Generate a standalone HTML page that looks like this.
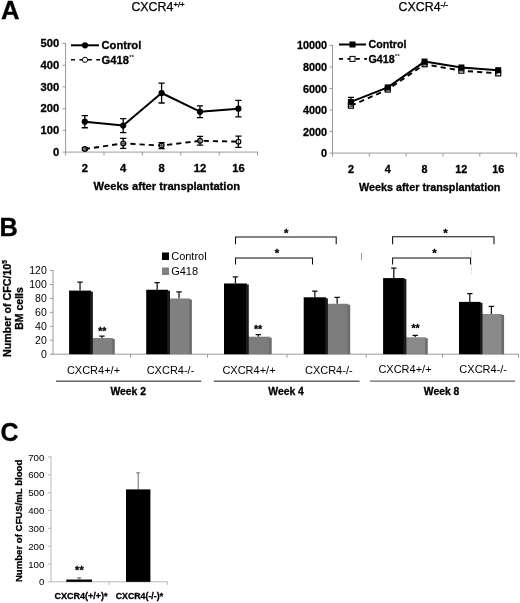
<!DOCTYPE html>
<html><head><meta charset="utf-8"><title>Figure</title>
<style>html,body{margin:0;padding:0;background:#fff;}svg{display:block;}text{font-family:"Liberation Sans", sans-serif;fill:#000;}text[font-weight=bold]{stroke:#000;stroke-width:0.3px;}</style>
</head><body>
<svg width="520" height="603" viewBox="0 0 520 603">
<defs><filter id="bl" x="0" y="0" width="520" height="603" filterUnits="userSpaceOnUse"><feGaussianBlur stdDeviation="0.4"/></filter></defs>
<rect x="0" y="0" width="520" height="603" fill="#fff"/>
<g filter="url(#bl)">
<rect x="0" y="0" width="520" height="603" fill="#fff"/>
<text x="1.0" y="19" font-size="25.6" font-weight="bold">A</text>
<text x="-0.6" y="235.6" font-size="25.4" font-weight="bold">B</text>
<text x="0.6" y="441" font-size="25" font-weight="bold">C</text>
<text x="131.4" y="11.4" font-size="12.4" stroke="#000" stroke-width="0.25">CXCR4<tspan font-size="7.8" dy="-4.2" stroke-width="0.35">+/+</tspan></text>
<text x="398.6" y="11.4" font-size="12.4" stroke="#000" stroke-width="0.25">CXCR4<tspan font-size="7.8" dy="-4.2" stroke-width="0.35">-/-</tspan></text>
<g stroke="#9a9a9a" stroke-width="1" fill="none">
<line x1="65.60" y1="43.00" x2="65.60" y2="152.10"/>
<line x1="65.10" y1="152.10" x2="258.10" y2="152.10"/>
<line x1="62.60" y1="152.10" x2="65.60" y2="152.10"/>
<line x1="65.60" y1="152.10" x2="65.60" y2="155.60"/>
<line x1="62.60" y1="130.38" x2="65.60" y2="130.38"/>
<line x1="104.00" y1="152.10" x2="104.00" y2="155.60"/>
<line x1="62.60" y1="108.66" x2="65.60" y2="108.66"/>
<line x1="142.40" y1="152.10" x2="142.40" y2="155.60"/>
<line x1="62.60" y1="86.94" x2="65.60" y2="86.94"/>
<line x1="180.80" y1="152.10" x2="180.80" y2="155.60"/>
<line x1="62.60" y1="65.22" x2="65.60" y2="65.22"/>
<line x1="219.20" y1="152.10" x2="219.20" y2="155.60"/>
<line x1="62.60" y1="43.50" x2="65.60" y2="43.50"/>
<line x1="257.60" y1="152.10" x2="257.60" y2="155.60"/>
</g>
<text x="59.20" y="155.83" font-size="11.2" font-weight="bold" text-anchor="end">0</text>
<text x="59.20" y="134.11" font-size="11.2" font-weight="bold" text-anchor="end">100</text>
<text x="59.20" y="112.39" font-size="11.2" font-weight="bold" text-anchor="end">200</text>
<text x="59.20" y="90.67" font-size="11.2" font-weight="bold" text-anchor="end">300</text>
<text x="59.20" y="68.95" font-size="11.2" font-weight="bold" text-anchor="end">400</text>
<text x="59.20" y="47.23" font-size="11.2" font-weight="bold" text-anchor="end">500</text>
<text x="84.80" y="172.00" font-size="11.2" font-weight="bold" text-anchor="middle">2</text>
<text x="123.20" y="172.00" font-size="11.2" font-weight="bold" text-anchor="middle">4</text>
<text x="161.60" y="172.00" font-size="11.2" font-weight="bold" text-anchor="middle">8</text>
<text x="200.00" y="172.00" font-size="11.2" font-weight="bold" text-anchor="middle">12</text>
<text x="238.40" y="172.00" font-size="11.2" font-weight="bold" text-anchor="middle">16</text>
<text x="93.60" y="190.00" font-size="11.2" font-weight="bold">Weeks after transplantation</text>
<g stroke="#000" stroke-width="1.3" fill="none">
<path d="M84.80 115.61V127.77M81.70 115.61H87.90M81.70 127.77H87.90"/>
<path d="M123.20 118.65V132.55M120.10 118.65H126.30M120.10 132.55H126.30"/>
<path d="M161.60 83.03V103.01M158.50 83.03H164.70M158.50 103.01H164.70"/>
<path d="M200.00 105.84V117.57M196.90 105.84H203.10M196.90 117.57H203.10"/>
<path d="M238.40 100.41V116.91M235.30 100.41H241.50M235.30 116.91H241.50"/>
<path d="M84.80 147.97V150.15M81.70 147.97H87.90M81.70 150.15H87.90"/>
<path d="M123.20 138.42V148.41M120.10 138.42H126.30M120.10 148.41H126.30"/>
<path d="M161.60 142.54V148.62M158.50 142.54H164.70M158.50 148.62H164.70"/>
<path d="M200.00 136.46V145.15M196.90 136.46H203.10M196.90 145.15H203.10"/>
<path d="M238.40 136.03V147.32M235.30 136.03H241.50M235.30 147.32H241.50"/>
</g>
<polyline points="84.80,149.06 123.20,143.41 161.60,145.58 200.00,140.81 238.40,141.67" fill="none" stroke="#000" stroke-width="1.9" stroke-dasharray="5.2 4"/>
<polyline points="84.80,121.69 123.20,125.60 161.60,93.02 200.00,111.70 238.40,108.66" fill="none" stroke="#000" stroke-width="2" stroke-linejoin="round"/>
<circle cx="84.80" cy="149.06" r="2.4" fill="#fff" fill-opacity="0.35" stroke="#000" stroke-width="1.2"/>
<circle cx="123.20" cy="143.41" r="2.4" fill="#fff" fill-opacity="0.35" stroke="#000" stroke-width="1.2"/>
<circle cx="161.60" cy="145.58" r="2.4" fill="#fff" fill-opacity="0.35" stroke="#000" stroke-width="1.2"/>
<circle cx="200.00" cy="140.81" r="2.4" fill="#fff" fill-opacity="0.35" stroke="#000" stroke-width="1.2"/>
<circle cx="238.40" cy="141.67" r="2.4" fill="#fff" fill-opacity="0.35" stroke="#000" stroke-width="1.2"/>
<circle cx="84.80" cy="121.69" r="3.1" fill="#000"/>
<circle cx="123.20" cy="125.60" r="3.1" fill="#000"/>
<circle cx="161.60" cy="93.02" r="3.1" fill="#000"/>
<circle cx="200.00" cy="111.70" r="3.1" fill="#000"/>
<circle cx="238.40" cy="108.66" r="3.1" fill="#000"/>
<line x1="71.00" y1="45.30" x2="99.00" y2="45.30" stroke="#000" stroke-width="2"/>
<line x1="71.00" y1="59.80" x2="100.00" y2="59.80" stroke="#000" stroke-width="1.6" stroke-dasharray="4 4.4"/>
<circle cx="85.00" cy="45.30" r="3.1" fill="#000"/>
<circle cx="85.00" cy="59.80" r="2.6" fill="#fff" stroke="#000" stroke-width="1"/>
<text x="101.50" y="49.33" font-size="11.2" font-weight="bold">Control</text>
<text x="101.50" y="63.83" font-size="11.2" font-weight="bold">G418<tspan font-size="5.6" dy="-4.4" dx="0.3" style="stroke-width:0;letter-spacing:0.4px">**</tspan></text>
<g stroke="#9a9a9a" stroke-width="1" fill="none">
<line x1="332.50" y1="44.90" x2="332.50" y2="153.10"/>
<line x1="332.00" y1="153.10" x2="517.10" y2="153.10"/>
<line x1="329.50" y1="153.10" x2="332.50" y2="153.10"/>
<line x1="332.50" y1="153.10" x2="332.50" y2="156.60"/>
<line x1="329.50" y1="131.56" x2="332.50" y2="131.56"/>
<line x1="369.32" y1="153.10" x2="369.32" y2="156.60"/>
<line x1="329.50" y1="110.02" x2="332.50" y2="110.02"/>
<line x1="406.14" y1="153.10" x2="406.14" y2="156.60"/>
<line x1="329.50" y1="88.48" x2="332.50" y2="88.48"/>
<line x1="442.96" y1="153.10" x2="442.96" y2="156.60"/>
<line x1="329.50" y1="66.94" x2="332.50" y2="66.94"/>
<line x1="479.78" y1="153.10" x2="479.78" y2="156.60"/>
<line x1="329.50" y1="45.40" x2="332.50" y2="45.40"/>
<line x1="516.60" y1="153.10" x2="516.60" y2="156.60"/>
</g>
<text x="327.10" y="157.19" font-size="10.8" font-weight="bold" text-anchor="end">0</text>
<text x="327.10" y="135.65" font-size="10.8" font-weight="bold" text-anchor="end">2000</text>
<text x="327.10" y="114.11" font-size="10.8" font-weight="bold" text-anchor="end">4000</text>
<text x="327.10" y="92.57" font-size="10.8" font-weight="bold" text-anchor="end">6000</text>
<text x="327.10" y="71.03" font-size="10.8" font-weight="bold" text-anchor="end">8000</text>
<text x="327.10" y="49.49" font-size="10.8" font-weight="bold" text-anchor="end">10000</text>
<text x="350.91" y="172.50" font-size="10.8" font-weight="bold" text-anchor="middle">2</text>
<text x="387.73" y="172.50" font-size="10.8" font-weight="bold" text-anchor="middle">4</text>
<text x="424.55" y="172.50" font-size="10.8" font-weight="bold" text-anchor="middle">8</text>
<text x="461.37" y="172.50" font-size="10.8" font-weight="bold" text-anchor="middle">12</text>
<text x="498.19" y="172.50" font-size="10.8" font-weight="bold" text-anchor="middle">16</text>
<text x="359.00" y="190.70" font-size="10.8" font-weight="bold">Weeks after transplantation</text>
<g stroke="#000" stroke-width="1.3" fill="none">
<path d="M350.91 97.42V106.47M347.81 97.42H354.01M347.81 106.47H354.01"/>
</g>
<polyline points="350.91,105.71 387.73,89.56 424.55,64.25 461.37,70.71 498.19,73.40" fill="none" stroke="#000" stroke-width="1.9" stroke-dasharray="5.2 4"/>
<polyline points="350.91,101.94 387.73,87.40 424.55,61.56 461.37,67.48 498.19,70.17" fill="none" stroke="#000" stroke-width="2" stroke-linejoin="round"/>
<rect x="348.41" y="103.21" width="5" height="5" fill="#fff" fill-opacity="0.35" stroke="#000" stroke-width="1.2"/>
<rect x="385.23" y="87.06" width="5" height="5" fill="#fff" fill-opacity="0.35" stroke="#000" stroke-width="1.2"/>
<rect x="422.05" y="61.75" width="5" height="5" fill="#fff" fill-opacity="0.35" stroke="#000" stroke-width="1.2"/>
<rect x="458.87" y="68.21" width="5" height="5" fill="#fff" fill-opacity="0.35" stroke="#000" stroke-width="1.2"/>
<rect x="495.69" y="70.90" width="5" height="5" fill="#fff" fill-opacity="0.35" stroke="#000" stroke-width="1.2"/>
<rect x="347.91" y="98.94" width="6" height="6" fill="#000"/>
<rect x="384.73" y="84.40" width="6" height="6" fill="#000"/>
<rect x="421.55" y="58.56" width="6" height="6" fill="#000"/>
<rect x="458.37" y="64.48" width="6" height="6" fill="#000"/>
<rect x="495.19" y="67.17" width="6" height="6" fill="#000"/>
<line x1="339.00" y1="44.50" x2="366.00" y2="44.50" stroke="#000" stroke-width="2"/>
<line x1="339.00" y1="58.90" x2="367.00" y2="58.90" stroke="#000" stroke-width="1.6" stroke-dasharray="4 4.4"/>
<rect x="349.50" y="41.50" width="6" height="6" fill="#000"/>
<rect x="350.00" y="56.40" width="5" height="5" fill="#fff" stroke="#000" stroke-width="1"/>
<text x="368.50" y="48.35" font-size="10.7" font-weight="bold">Control</text>
<text x="368.50" y="62.75" font-size="10.7" font-weight="bold">G418<tspan font-size="5.3" dy="-4.4" dx="0.3" style="stroke-width:0;letter-spacing:0.4px">**</tspan></text>
<g stroke="#9a9a9a" stroke-width="1" fill="none">
<line x1="53" y1="270" x2="53" y2="354.20"/>
<line x1="52.5" y1="354.20" x2="518.8" y2="354.20"/>
<line x1="50" y1="354.20" x2="53" y2="354.20"/>
<line x1="50" y1="340.25" x2="53" y2="340.25"/>
<line x1="50" y1="326.30" x2="53" y2="326.30"/>
<line x1="50" y1="312.35" x2="53" y2="312.35"/>
<line x1="50" y1="298.40" x2="53" y2="298.40"/>
<line x1="50" y1="284.45" x2="53" y2="284.45"/>
<line x1="50" y1="270.50" x2="53" y2="270.50"/>
<line x1="130.50" y1="354.20" x2="130.50" y2="357.70"/>
<line x1="207.50" y1="354.20" x2="207.50" y2="357.70"/>
<line x1="287.00" y1="354.20" x2="287.00" y2="357.70"/>
<line x1="366.25" y1="354.20" x2="366.25" y2="357.70"/>
<line x1="442.50" y1="354.20" x2="442.50" y2="357.70"/>
<line x1="518.50" y1="354.20" x2="518.50" y2="357.70"/>
</g>
<text x="46.8" y="358.00" font-size="10.5" text-anchor="end">0</text>
<text x="46.8" y="344.05" font-size="10.5" text-anchor="end">20</text>
<text x="46.8" y="330.10" font-size="10.5" text-anchor="end">40</text>
<text x="46.8" y="316.15" font-size="10.5" text-anchor="end">60</text>
<text x="46.8" y="302.20" font-size="10.5" text-anchor="end">80</text>
<text x="46.8" y="288.25" font-size="10.5" text-anchor="end">100</text>
<text x="46.8" y="274.30" font-size="10.5" text-anchor="end">120</text>
<text transform="translate(10.6 308.5) rotate(-90)" font-size="10.7" font-weight="bold" text-anchor="middle">Number of CFC/10<tspan font-size="6.5" dy="-4">5</tspan></text>
<text transform="translate(22.8 308.5) rotate(-90)" font-size="10.5" font-weight="bold" text-anchor="middle">BM cells</text>
<g stroke="#111" stroke-width="1.25" fill="none">
<path d="M80.05 290.59V282.22M77.35 282.22H82.75"/>
<path d="M101.95 338.02V336.00M99.25 336.00H104.65"/>
</g>
<rect x="69.10" y="290.59" width="21.90" height="63.61" fill="#000"/>
<rect x="91.00" y="338.02" width="21.90" height="16.18" fill="#808080"/>
<rect x="112.10" y="339.02" width="2.7" height="15.18" fill="#6c6c6c"/>
<rect x="90.20" y="291.59" width="2.7" height="62.61" fill="#1c1c1c"/>
<g stroke="#111" stroke-width="1.25" fill="none">
<path d="M157.15 289.75V282.50M154.45 282.50H159.85"/>
<path d="M179.05 298.47V291.91M176.35 291.91H181.75"/>
</g>
<rect x="146.20" y="289.75" width="21.90" height="64.45" fill="#000"/>
<rect x="168.10" y="298.47" width="21.90" height="55.73" fill="#808080"/>
<rect x="189.20" y="299.47" width="2.7" height="54.73" fill="#6c6c6c"/>
<rect x="167.30" y="290.75" width="2.7" height="63.45" fill="#1c1c1c"/>
<g stroke="#111" stroke-width="1.25" fill="none">
<path d="M235.45 283.47V276.92M232.75 276.92H238.15"/>
<path d="M258.35 336.69V334.60M255.65 334.60H261.05"/>
</g>
<rect x="224.00" y="283.47" width="22.90" height="70.73" fill="#000"/>
<rect x="246.90" y="336.69" width="22.90" height="17.51" fill="#7b7b7b"/>
<rect x="269.00" y="337.69" width="2.7" height="16.51" fill="#6c6c6c"/>
<rect x="246.10" y="284.47" width="2.7" height="69.73" fill="#1c1c1c"/>
<g stroke="#111" stroke-width="1.25" fill="none">
<path d="M314.85 297.28V291.22M312.15 291.22H317.55"/>
<path d="M337.15 303.77V297.28M334.45 297.28H339.85"/>
</g>
<rect x="303.70" y="297.28" width="22.30" height="56.92" fill="#000"/>
<rect x="326.00" y="303.77" width="22.30" height="50.43" fill="#7b7b7b"/>
<rect x="347.50" y="304.77" width="2.7" height="49.43" fill="#6c6c6c"/>
<rect x="325.20" y="298.28" width="2.7" height="55.92" fill="#1c1c1c"/>
<g stroke="#111" stroke-width="1.25" fill="none">
<path d="M393.80 278.10V268.13M391.10 268.13H396.50"/>
<path d="M415.20 337.25V335.37M412.50 335.37H417.90"/>
</g>
<rect x="383.10" y="278.10" width="21.40" height="76.10" fill="#000"/>
<rect x="404.50" y="337.25" width="21.40" height="16.95" fill="#898989"/>
<rect x="425.10" y="338.25" width="2.7" height="15.95" fill="#6c6c6c"/>
<rect x="403.70" y="279.10" width="2.7" height="75.10" fill="#1c1c1c"/>
<g stroke="#111" stroke-width="1.25" fill="none">
<path d="M469.80 301.89V293.73M467.10 293.73H472.50"/>
<path d="M491.40 314.02V306.49M488.70 306.49H494.10"/>
</g>
<rect x="459.00" y="301.89" width="21.60" height="52.31" fill="#000"/>
<rect x="480.60" y="314.02" width="21.60" height="40.18" fill="#898989"/>
<rect x="501.40" y="315.02" width="2.7" height="39.18" fill="#6c6c6c"/>
<rect x="479.80" y="302.89" width="2.7" height="51.31" fill="#1c1c1c"/>
<text x="102.30" y="334.80" font-size="10.5" font-weight="bold" text-anchor="middle">**</text>
<text x="258.10" y="333.20" font-size="10.5" font-weight="bold" text-anchor="middle">**</text>
<text x="415.60" y="332.00" font-size="10.5" font-weight="bold" text-anchor="middle">**</text>
<rect x="162" y="252.5" width="7" height="7.5" fill="#000"/>
<rect x="162" y="267.5" width="7" height="7.5" fill="#808080"/>
<text x="171.2" y="260" font-size="11">Control</text>
<text x="171.2" y="275" font-size="11">G418</text>
<g stroke="#0a0a0a" stroke-width="1.05" fill="none">
<path d="M235.5 244.3V237H336.2V244.3"/>
<path d="M235.5 264.5V258H312.5V264.5"/>
<path d="M392.6 244.3V236.8H494V244.3"/>
<path d="M392.6 264.5V258H470.5V264.5"/>
</g>
<line x1="361.5" y1="253" x2="361.5" y2="260" stroke="#999" stroke-width="1"/>
<line x1="471.5" y1="250" x2="471.5" y2="274" stroke="#e4e4e4" stroke-width="1"/>
<text x="286.30" y="236.70" font-size="11.5" font-weight="bold" text-anchor="middle">*</text>
<text x="277.00" y="257.20" font-size="11.5" font-weight="bold" text-anchor="middle">*</text>
<text x="445.60" y="236.50" font-size="11.5" font-weight="bold" text-anchor="middle">*</text>
<text x="434.50" y="257.20" font-size="11.5" font-weight="bold" text-anchor="middle">*</text>
<text x="93.50" y="373.70" font-size="11" text-anchor="middle">CXCR4+/+</text>
<text x="170.50" y="373.70" font-size="11" text-anchor="middle">CXCR4-/-</text>
<text x="249.00" y="373.70" font-size="11" text-anchor="middle">CXCR4+/+</text>
<text x="328.80" y="373.70" font-size="11" text-anchor="middle">CXCR4-/-</text>
<text x="405.00" y="373.40" font-size="11" text-anchor="middle">CXCR4+/+</text>
<text x="483.20" y="373.40" font-size="11" text-anchor="middle">CXCR4-/-</text>
<g stroke="#666" stroke-width="1.4">
<line x1="56" y1="381.2" x2="201.3" y2="381.2"/>
<line x1="213.8" y1="381.2" x2="359.5" y2="381.2"/>
<line x1="370" y1="381.1" x2="515" y2="381.1"/>
</g>
<text x="128.20" y="394.6" font-size="10.4" font-weight="bold" text-anchor="middle">Week 2</text>
<text x="286.10" y="394.6" font-size="10.4" font-weight="bold" text-anchor="middle">Week 4</text>
<text x="441.60" y="394.6" font-size="10.4" font-weight="bold" text-anchor="middle">Week 8</text>
<g stroke="#b8b8b8" stroke-width="1" fill="none">
<line x1="51" y1="456.4" x2="51" y2="581.85"/>
<line x1="50.5" y1="581.85" x2="167.4" y2="581.85"/>
<line x1="48" y1="581.85" x2="51" y2="581.85"/>
<line x1="48" y1="564.00" x2="51" y2="564.00"/>
<line x1="48" y1="546.15" x2="51" y2="546.15"/>
<line x1="48" y1="528.30" x2="51" y2="528.30"/>
<line x1="48" y1="510.45" x2="51" y2="510.45"/>
<line x1="48" y1="492.60" x2="51" y2="492.60"/>
<line x1="48" y1="474.75" x2="51" y2="474.75"/>
<line x1="48" y1="456.90" x2="51" y2="456.90"/>
<line x1="109.20" y1="581.85" x2="109.20" y2="584.85"/>
<line x1="167.40" y1="581.85" x2="167.40" y2="584.85"/>
</g>
<text x="44.4" y="585.45" font-size="9.7" text-anchor="end">0</text>
<text x="44.4" y="567.60" font-size="9.7" text-anchor="end">100</text>
<text x="44.4" y="549.75" font-size="9.7" text-anchor="end">200</text>
<text x="44.4" y="531.90" font-size="9.7" text-anchor="end">300</text>
<text x="44.4" y="514.05" font-size="9.7" text-anchor="end">400</text>
<text x="44.4" y="496.20" font-size="9.7" text-anchor="end">500</text>
<text x="44.4" y="478.35" font-size="9.7" text-anchor="end">600</text>
<text x="44.4" y="460.50" font-size="9.7" text-anchor="end">700</text>
<text transform="translate(22.2 520.9) rotate(-90)" font-size="9.6" font-weight="bold" text-anchor="middle">Number of CFUS/mL blood</text>
<g stroke="#7a7a7a" stroke-width="1.1" fill="none">
<path d="M79.2 579.53V577.92M77.2 577.92H81.2"/>
<path d="M138.2 489.39V472.79M136.2 472.79H140.2"/>
</g>
<rect x="66.3" y="579.53" width="25.7" height="2.32" fill="#000"/>
<rect x="126" y="489.39" width="24.4" height="92.46" fill="#000"/>
<text x="79.4" y="573.6" font-size="11" font-weight="bold" text-anchor="middle">**</text>
<text x="81" y="598.6" font-size="9" font-weight="bold" text-anchor="middle">CXCR4(+/+)*</text>
<text x="139.4" y="598.6" font-size="8.8" font-weight="bold" text-anchor="middle">CXCR4(-/-)*</text>
</g>
</svg>
</body></html>
